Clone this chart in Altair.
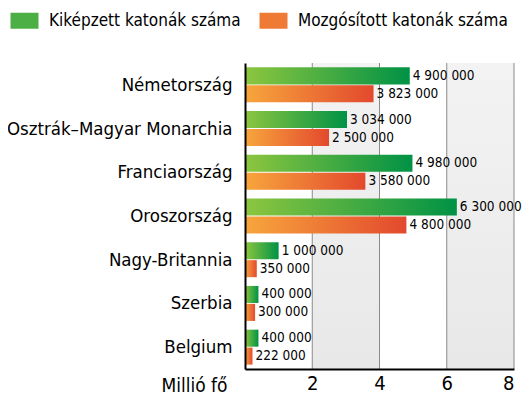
import altair as alt
import pandas as pd

countries = ["Németország", "Osztrák–Magyar Monarchia", "Franciaország", "Oroszország",
             "Nagy-Britannia", "Szerbia", "Belgium"]
trained = [4900000, 3034000, 4980000, 6300000, 1000000, 400000, 400000]
mobilized = [3823000, 2500000, 3580000, 4800000, 350000, 300000, 222000]
series = ["Kiképzett katonák száma", "Mozgósított katonák száma"]
ticks = [2, 4, 6, 8]
band_start = [2, 6]
band_end = [4, 8]

FONT = "DejaVu Sans Condensed, Liberation Sans Narrow, Roboto"

def fmt(v):
    return format(v, ",").replace(",", " ")

rows = []
for c, t, m in zip(countries, trained, mobilized):
    rows.append({"country": c, "series": series[0], "value": t / 1e6, "label": fmt(t)})
    rows.append({"country": c, "series": series[1], "value": m / 1e6, "label": fmt(m)})
df = pd.DataFrame(rows)
bands = pd.DataFrame({"s": band_start, "e": band_end})
grid = pd.DataFrame({"v": ticks})

green_grad = alt.LinearGradient(gradient="linear", x1=0, x2=1, y1=0, y2=0,
                                stops=[alt.GradientStop(offset=0, color="#8dc63f"),
                                       alt.GradientStop(offset=1, color="#009245")])
orange_grad = alt.LinearGradient(gradient="linear", x1=0, x2=1, y1=0, y2=0,
                                 stops=[alt.GradientStop(offset=0, color="#f7a63d"),
                                        alt.GradientStop(offset=1, color="#e3492d")])
gray_grad = alt.LinearGradient(gradient="linear", x1=0, x2=0, y1=0, y2=1,
                               stops=[alt.GradientStop(offset=0, color="#f3f3f3"),
                                      alt.GradientStop(offset=1, color="#e8e8e8")])

xscale = alt.Scale(domain=[0, 8], nice=False)
xaxis = alt.Axis(values=ticks, grid=False, ticks=False, domainColor="black", domainWidth=2,
                 labelFontSize=20, labelPadding=4, labelColor="black", labelFont=FONT,
                 title="Millió fő", titleFont=FONT, titleFontSize=19, titleFontWeight="normal",
                 titleColor="black", titleAlign="right", titleAnchor="start",
                 titleX=-18, titleY=16, titleBaseline="middle", zindex=1)
yscale = alt.Scale(domain=countries, paddingInner=0.2, paddingOuter=0.1)
yaxis = alt.Axis(title=None, ticks=False, domainColor="black", domainWidth=2,
                 labelFontSize=18.5, labelPadding=13, labelColor="black", labelFont=FONT,
                 labelLimit=400, zindex=1)
yoff = alt.YOffset("series:N", scale=alt.Scale(domain=series, paddingInner=0.05))

bg = alt.Chart(bands).mark_rect(fill=gray_grad).encode(
    x=alt.X("s:Q", scale=xscale, axis=xaxis), x2="e:Q")
rules = alt.Chart(grid).mark_rule(color="#8a8a8a", strokeWidth=1).encode(
    x=alt.X("v:Q", scale=xscale))

base = alt.Chart(df)
green = base.transform_filter(alt.datum.series == series[0]).mark_bar(fill=green_grad).encode(
    x=alt.X("value:Q", scale=xscale, axis=xaxis),
    y=alt.Y("country:N", scale=yscale, axis=yaxis, sort=countries),
    yOffset=yoff)
orange = base.transform_filter(alt.datum.series == series[1]).mark_bar(fill=orange_grad).encode(
    x=alt.X("value:Q", scale=xscale, axis=xaxis),
    y=alt.Y("country:N", scale=yscale, axis=yaxis, sort=countries),
    yOffset=yoff)
labels = base.mark_text(align="left", baseline="middle", dx=3, fontSize=13.5, font=FONT,
                        color="black").encode(
    x=alt.X("value:Q", scale=xscale, axis=xaxis),
    y=alt.Y("country:N", scale=yscale, axis=yaxis, sort=countries),
    yOffset=yoff, text="label:N")

legend_layer = base.mark_square(size=0, opacity=0).encode(
    x=alt.X("value:Q", scale=xscale, axis=xaxis),
    y=alt.Y("country:N", scale=yscale, axis=yaxis, sort=countries),
    color=alt.Color("series:N", scale=alt.Scale(domain=series, range=["#4caf45", "#ee7a36"]),
                    legend=alt.Legend(title=None, orient="none", direction="horizontal",
                                      legendX=-229, legendY=-51,
                                      symbolType="M-1.75,-1L1.75,-1L1.75,1L-1.75,1Z",
                                      symbolSize=256, symbolOpacity=1, symbolStrokeWidth=0,
                                      labelFontSize=17, labelFont=FONT, labelColor="black",
                                      labelOffset=16, columnPadding=18, labelLimit=400)))

chart = alt.layer(bg, rules, green, orange, labels, legend_layer).properties(
    width=269, height=306,
    autosize=alt.AutoSizeParams(type="none"),
    padding={"left": 237, "top": 55, "right": 10, "bottom": 27}
).configure_view(stroke=None)

chart.save("out.html", embed_options={"renderer": "svg", "actions": False})
